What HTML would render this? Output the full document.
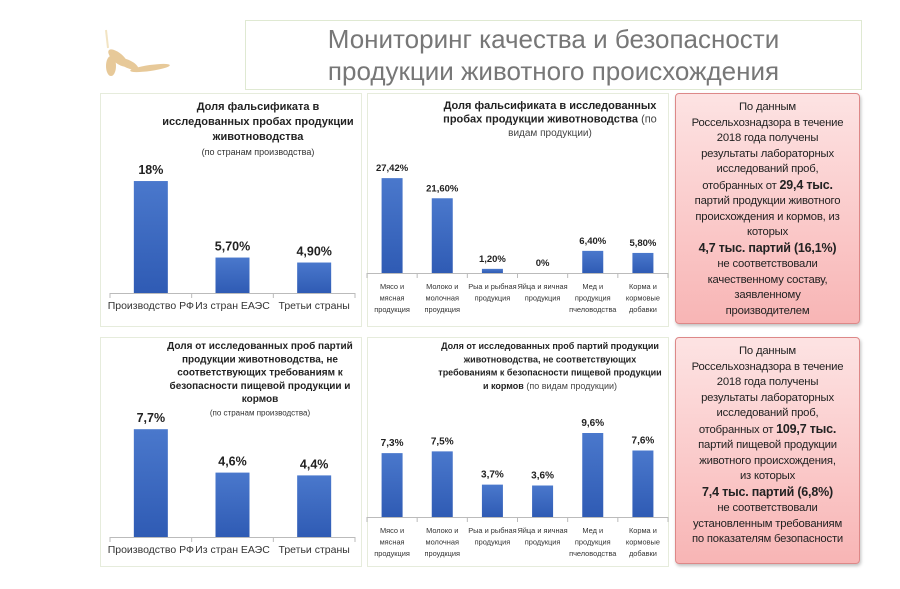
<!DOCTYPE html>
<html><head><meta charset="utf-8">
<style>
body{margin:0;width:900px;height:589px;background:#fff;position:relative;overflow:hidden;font-family:"Liberation Sans","Noto Sans CJK SC",sans-serif;}
.box{position:absolute;box-sizing:border-box;}
.title{left:245px;top:20px;width:617px;height:70px;border:1.5px solid #dfe9d2;color:#777;font-size:26px;text-align:center;line-height:32px;padding-top:2px;}
.panel{border:1px solid #e6ecdc;background:#fff;}
.red{border:1px solid #d88;border-radius:4px;background:linear-gradient(#fde3e3,#f8b5b5);box-shadow:1px 2px 3px rgba(0,0,0,.25);text-align:center;font-size:11.3px;line-height:15.5px;color:#222;padding-top:6px;letter-spacing:-0.2px;}
.red b{font-size:12.5px;}
svg{position:absolute;left:0;top:0;}
</style></head><body>
<svg width="900" height="589">
<g fill="#e0b878" opacity="0.75">
<ellipse cx="118" cy="58" rx="12" ry="5" transform="rotate(40 118 58)"/>
<ellipse cx="128" cy="64" rx="11" ry="4" transform="rotate(25 128 64)"/>
<ellipse cx="150" cy="68" rx="20" ry="3" transform="rotate(-8 150 68)"/>
<ellipse cx="111" cy="66" rx="5" ry="10"/>
<line x1="106" y1="30" x2="108" y2="48" stroke="#eedcb0" stroke-width="2"/>
</g></svg>
<div class="box title">Мониторинг качества и безопасности<br>продукции животного происхождения</div>
<div class="box panel" style="left:100px;top:93px;width:262px;height:234px"></div>
<div class="box panel" style="left:367px;top:93px;width:302px;height:234px"></div>
<div class="box panel" style="left:100px;top:337px;width:262px;height:230px"></div>
<div class="box panel" style="left:367px;top:337px;width:302px;height:230px"></div>
<div class="box red" style="left:675px;top:93px;width:185px;height:231px">По данным<br>Россельхознадзора в течение<br>2018 года получены<br>результаты лабораторных<br>исследований проб,<br>отобранных от <b>29,4 тыс.</b><br>партий продукции животного<br>происхождения и кормов, из<br>которых<br><b>4,7 тыс. партий (16,1%)</b><br>не соответствовали<br>качественному составу,<br>заявленному<br>производителем</div>
<div class="box red" style="left:675px;top:337px;width:185px;height:227px">По данным<br>Россельхознадзора в течение<br>2018 года получены<br>результаты лабораторных<br>исследований проб,<br>отобранных от <b>109,7 тыс.</b><br>партий пищевой продукции<br>животного происхождения,<br>из которых<br><b>7,4 тыс. партий (6,8%)</b><br>не соответствовали<br>установленным требованиям<br>по показателям безопасности</div>
<svg id="charts" width="900" height="589">
<defs><linearGradient id="bg" x1="0" y1="0" x2="0" y2="1"><stop offset="0" stop-color="#4a78cc"/><stop offset="1" stop-color="#2f5bb4"/></linearGradient></defs>
</svg>
<script>
const countryCats = ["Производство РФ","Из стран ЕАЭС","Третьи страны"];
const falsCountryVals = [18, 5.7, 4.9];
const falsCountryLabels = ["18%","5,70%","4,90%"];
const productCats = [["Мясо и","мясная","продукция"],["Молоко и","молочная","проудкция"],["Рыа и рыбная","продукция"],["Яйца и яичная","продукция"],["Мед и","продукция","пчеловодства"],["Корма и","кормовые","добавки"]];
const falsProductVals = [27.42, 21.6, 1.2, 0, 6.4, 5.8];
const falsProductLabels = ["27,42%","21,60%","1,20%","0%","6,40%","5,80%"];
const safeCountryVals = [7.7, 4.6, 4.4];
const safeCountryLabels = ["7,7%","4,6%","4,4%"];
const safeProductVals = [7.3, 7.5, 3.7, 3.6, 9.6, 7.6];
const safeProductLabels = ["7,3%","7,5%","3,7%","3,6%","9,6%","7,6%"];

const svg = document.getElementById('charts');
const NS = 'http://www.w3.org/2000/svg';
function mk(tag, attrs, parent){const e=document.createElementNS(NS,tag);for(const k in attrs)e.setAttribute(k,attrs[k]);(parent||svg).appendChild(e);return e;}
function txt(x,y,s,size,weight,color,name,parent){const t=mk('text',{x:x,y:y,'font-size':size,'font-weight':weight,fill:color,'text-anchor':'middle'},parent);t.textContent=s;


return t;}

function chart(id, x0, x1, base, pxPer, barW, cats, vals, labels, catSize, valSize, lineH){
  const g = mk('g',{});
  
  
  const n = cats.length, w = (x1-x0)/n;
  const xs = i => x0 + w*(i+0.5);
  const ys = v => base - v*pxPer;
  mk('line',{x1:x0,y1:base+0.5,x2:x1,y2:base+0.5,stroke:'#bbb','stroke-width':1},g);
  for(let i=0;i<=n;i++) mk('line',{x1:x0+w*i,y1:base,x2:x0+w*i,y2:base+5,stroke:'#bbb'},g);
  vals.forEach((v,i)=>{
    const h = Math.max(ys(0)-ys(v),0);
    const r = mk('rect',{x:xs(i)-barW/2,y:ys(v),width:barW,height:h,fill:'url(#bg)'},g);
    
    
    txt(xs(i), ys(v)-7, labels[i], valSize, 'bold', '#222', 'value-label', g);
    const c = Array.isArray(cats[i]) ? cats[i] : [cats[i]];
    c.forEach((s,j)=>txt(xs(i), base+16+j*lineH, s, catSize, 'normal', '#333', 'category-label', g));
  });
}
chart('chart-falsification-by-country',110,355,293,6.22,34,countryCats,falsCountryVals,falsCountryLabels,10.5,12.5,13);
chart('chart-falsification-by-product',367,668,273,3.46,21,productCats,falsProductVals,falsProductLabels,7.4,9.5,11.5);
chart('chart-safety-by-country',110,355,537,14.0,34,countryCats,safeCountryVals,safeCountryLabels,10.5,12.5,13);
chart('chart-safety-by-product',367,668,517,8.75,21,productCats,safeProductVals,safeProductLabels,7.4,10,11.5);

function title(lines, x, y0, lh, name){
  lines.forEach((l,i)=>{
    const t = mk('text',{x:x,y:y0+i*lh,'text-anchor':'middle','font-size':l[1],'font-weight':l[2],fill:l[3]||'#222'});
    
    
    t.innerHTML = l[0];
  });
}
title([["Доля фальсификата  в",11,'bold'],["исследованных пробах продукции",11,'bold'],["животноводства",11,'bold'],["(по странам производства)",9,'normal','#333']],258,110,15,'chart-title');
title([["Доля фальсификата в исследованных",11,'bold'],["пробах продукции животноводства <tspan font-weight='normal' fill='#444'>(по</tspan>",11,'bold'],["видам продукции)",10,'normal','#444']],550,109,13.5,'chart-title');
title([["Доля от исследованных проб партий",10,'bold'],["продукции животноводства, не",10,'bold'],["соответствующих требованиям к",10,'bold'],["безопасности пищевой продукции и",10,'bold'],["кормов",10,'bold'],["(по странам производства)",8,'normal','#333']],260,349,13.3,'chart-title');
title([["Доля от исследованных проб партий продукции",9,'bold'],["животноводства, не соответствующих",9,'bold'],["требованиям к безопасности пищевой продукции",9,'bold'],["и кормов  <tspan font-weight='normal' fill='#444'>(по видам продукции)</tspan>",9,'bold']],550,349,13.3,'chart-title');
</script>
</body></html>
